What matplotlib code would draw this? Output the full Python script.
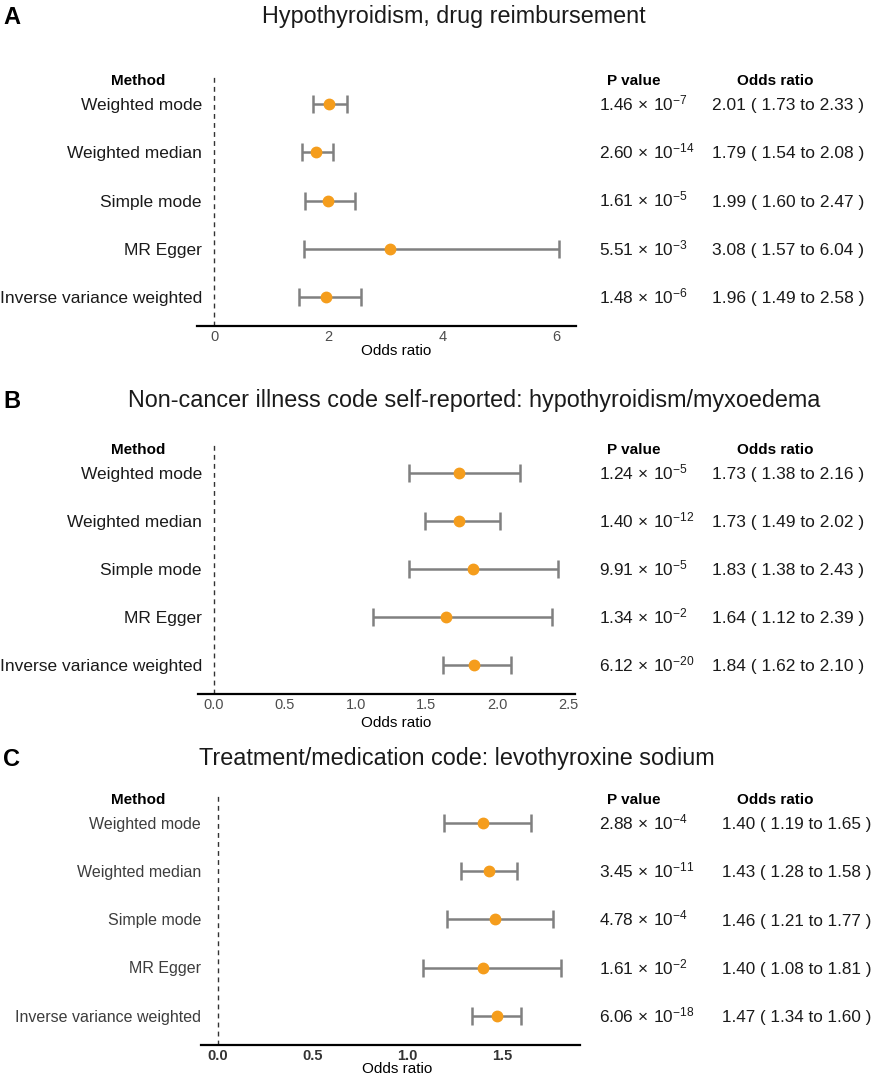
import matplotlib
matplotlib.use("Agg")
import matplotlib.pyplot as plt
from matplotlib.transforms import blended_transform_factory, offset_copy

plt.rcParams['font.family'] = ['Liberation Sans', 'DejaVu Sans']
plt.rcParams['mathtext.fontset'] = 'custom'
plt.rcParams['mathtext.rm'] = 'Liberation Sans'
plt.rcParams['mathtext.it'] = 'Liberation Sans:italic'
plt.rcParams['mathtext.bf'] = 'Liberation Sans:bold'
plt.rcParams['mathtext.default'] = 'regular'

# ---------------- data ----------------
methods = ["Weighted mode", "Weighted median", "Simple mode", "MR Egger",
           "Inverse variance weighted"]

titles = ["Hypothyroidism, drug reimbursement",
          "Non-cancer illness code self-reported: hypothyroidism/myxoedema",
          "Treatment/medication code: levothyroxine sodium"]
panel_letters = ["A", "B", "C"]

or_A = [2.01, 1.79, 1.99, 3.08, 1.96]
lo_A = [1.73, 1.54, 1.60, 1.57, 1.49]
hi_A = [2.33, 2.08, 2.47, 6.04, 2.58]
pm_A = ["1.46", "2.60", "1.61", "5.51", "1.48"]
pe_A = [-7, -14, -5, -3, -6]
ticks_A = [0, 2, 4, 6]
ticklabels_A = ["0", "2", "4", "6"]

or_B = [1.73, 1.73, 1.83, 1.64, 1.84]
lo_B = [1.38, 1.49, 1.38, 1.12, 1.62]
hi_B = [2.16, 2.02, 2.43, 2.39, 2.10]
pm_B = ["1.24", "1.40", "9.91", "1.34", "6.12"]
pe_B = [-5, -12, -5, -2, -20]
ticks_B = [0.0, 0.5, 1.0, 1.5, 2.0, 2.5]
ticklabels_B = ["0.0", "0.5", "1.0", "1.5", "2.0", "2.5"]

or_C = [1.40, 1.43, 1.46, 1.40, 1.47]
lo_C = [1.19, 1.28, 1.21, 1.08, 1.34]
hi_C = [1.65, 1.58, 1.77, 1.81, 1.60]
pm_C = ["2.88", "3.45", "4.78", "1.61", "6.06"]
pe_C = [-4, -11, -4, -2, -18]
ticks_C = [0.0, 0.5, 1.0, 1.5]
ticklabels_C = ["0.0", "0.5", "1.0", "1.5"]

# ---------------- layout ----------------
W, H = 873, 1074
fig = plt.figure(figsize=(W / 100, H / 100), dpi=100)
fig.patch.set_facecolor("white")

def fx(x):
    return x / W

def fy(y):
    return 1 - y / H

panels = [
    dict(orv=or_A, lo=lo_A, hi=hi_A, pm=pm_A, pe=pe_A, ticks=ticks_A, tl=ticklabels_A,
         rect=(197, 75, 576, 326), xlim=(-0.30, 6.34), title_x=262, title_y=16,
         letter_y=17, lab_x=202, xlab=(396, 351), bold_ticks=False,
         lab_size=12.5, lab_color="#1a1a1a", or_x=712, or_size=12.5),
    dict(orv=or_B, lo=lo_B, hi=hi_B, pm=pm_B, pe=pe_B, ticks=ticks_B, tl=ticklabels_B,
         rect=(198, 444, 575, 694), xlim=(-0.113, 2.55), title_x=128, title_y=400,
         letter_y=402, lab_x=202, xlab=(396, 723), bold_ticks=False,
         lab_size=12.5, lab_color="#1a1a1a", or_x=712, or_size=12.5),
    dict(orv=or_C, lo=lo_C, hi=hi_C, pm=pm_C, pe=pe_C, ticks=ticks_C, tl=ticklabels_C,
         rect=(201, 794, 580, 1045), xlim=(-0.09, 1.91), title_x=199, title_y=759,
         letter_y=760, lab_x=201, xlab=(397, 1069), bold_ticks=True,
         lab_size=11.5, lab_color="#3d3d3d", or_x=722, or_size=12.3),
]

orange = "#F59D1C"
grey = "#808080"

def base_tr(tr, size):
    # shift so that text drawn on its baseline is visually centred on the row (cap-height/2)
    return offset_copy(tr, fig=fig, x=0, y=-0.716 * size / 2, units="points")

for i, p in enumerate(panels):
    l, t, r, b = p["rect"]
    ax = fig.add_axes([fx(l), fy(b), (r - l) / W, (b - t) / H])
    ax.set_facecolor("none")
    n = len(methods)
    ypos = list(range(n - 1, -1, -1))
    err_lo = [o - lo for o, lo in zip(p["orv"], p["lo"])]
    err_hi = [hi - o for o, hi in zip(p["orv"], p["hi"])]
    ax.axvline(0, color="#333333", lw=1.0, ls=(0, (3.5, 3)), zorder=1)
    ax.errorbar(p["orv"], ypos, xerr=[err_lo, err_hi], fmt="none", ecolor=grey,
                elinewidth=1.8, capsize=6.5, capthick=1.8, zorder=2)
    ax.plot(p["orv"], ypos, "o", color=orange, ms=7.5, mec=orange, zorder=3)
    ax.set_xlim(*p["xlim"])
    ax.set_ylim(-0.6, n - 0.4)
    for s in ["top", "right", "left"]:
        ax.spines[s].set_visible(False)
    ax.spines["bottom"].set_linewidth(1.6)
    ax.spines["bottom"].set_color("black")
    ax.set_yticks([])
    ax.set_xticks(p["ticks"])
    ax.set_xticklabels(p["tl"], fontsize=10.5,
                       fontweight="bold" if p["bold_ticks"] else "normal",
                       color="#4d4d4d" if not p["bold_ticks"] else "#333333")
    ax.tick_params(axis="x", length=0, pad=3)
    ax.set_xlabel("Odds ratio", fontsize=11, color="black", labelpad=0)
    ax.xaxis.set_label_coords(fx(p["xlab"][0]), fy(p["xlab"][1]), transform=fig.transFigure)
    ax.xaxis.label.set_va("center")

    tr = blended_transform_factory(fig.transFigure, ax.transData)
    # headers
    for hx, htxt in [(138.5, "Method"), (634, "P value"), (775, "Odds ratio")]:
        fig.text(fx(hx), n - 0.5, htxt, transform=base_tr(tr, 11), ha="center",
                 va="baseline", fontsize=11, fontweight="bold")
    for k in range(n):
        y = ypos[k]
        fig.text(fx(p["lab_x"]), y, methods[k], transform=base_tr(tr, p["lab_size"]),
                 ha="right", va="baseline", fontsize=p["lab_size"], color=p["lab_color"])
        ptxt = p["pm"][k] + r"$\,\times\,$10$^{" + str(p["pe"][k]) + "}$"
        fig.text(fx(599), y, ptxt, transform=base_tr(tr, 12.4), ha="left", va="baseline",
                 fontsize=12.4, color="#1a1a1a")
        otxt = "%.2f ( %.2f to %.2f )" % (p["orv"][k], p["lo"][k], p["hi"][k])
        fig.text(fx(p["or_x"]), y, otxt, transform=base_tr(tr, p["or_size"]), ha="left",
                 va="baseline", fontsize=p["or_size"], color="#1a1a1a")

    fig.text(fx(p["title_x"]), fy(p["title_y"]), titles[i], ha="left", va="center",
             fontsize=16.8, color="#1a1a1a")
    fig.text(fx(3), fy(p["letter_y"]), panel_letters[i], ha="left", va="center",
             fontsize=17, fontweight="bold", color="black")

fig.savefig("out.png", dpi=100, facecolor="white")
